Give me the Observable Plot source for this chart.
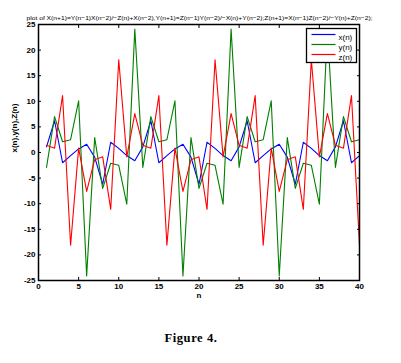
<!DOCTYPE html>
<html><head><meta charset="utf-8">
<script src="https://cdn.jsdelivr.net/npm/d3@7"></script>
<script src="https://cdn.jsdelivr.net/npm/@observablehq/plot@0.6"></script>
<style>
body{margin:0;background:#fff;}
#chart{width:401px;height:363px;}
</style>
</head><body><div id="chart"></div>
<script>
// ---- data ----
const titleText = "plot of X(n+1)=Y(n\u22121)X(n\u22122)/\u2212Z(n)+X(n\u22122),Y(n+1)=Z(n\u22121)Y(n\u22122)/\u2212X(n)+Y(n\u22122);Z(n+1)=X(n\u22121)Z(n\u22122)/\u2212Y(n)+Z(n\u22122);";
const xLabel = "n";
const yLabel = "x(n),y(n),Z(n)";
const caption = "Figure 4.";
const seriesNames = ["x(n)", "y(n)", "z(n)"];
const seriesColors = ["#0000ff", "#008000", "#ff0000"];
const xTicks = [0, 5, 10, 15, 20, 25, 30, 35, 40];
const yTicks = [-25, -20, -15, -10, -5, 0, 5, 10, 15, 20, 25];
const nVals = [1,2,3,4,5,6,7,8,9,10,11,12,13,14,15,16,17,18,19,20,21,22,23,24,25,26,27,28,29,30,31,32,33,34,35,36,37,38,39,40];
const xn = [1.1,6.2,-2.0,-0.6,0.7,1.6,-0.9,-6.2,2.0,0.8,-0.6,-1.6,
            1.1,6.2,-2.0,-0.6,0.7,1.6,-0.9,-6.2,2.0,0.8,-0.6,-1.6,
            1.1,6.2,-2.0,-0.6,0.7,1.6,-0.9,-6.2,2.0,0.8,-0.6,-1.6,
            1.1,6.2,-2.0,-0.6];
const yn = [-2.9,7.0,2.1,2.5,10.1,-24.1,2.9,-7.0,-2.1,-2.5,-10.1,24.1,
            -2.9,7.0,2.1,2.5,10.1,-24.1,2.9,-7.0,-2.1,-2.5,-10.1,24.1,
            -2.9,7.0,2.1,2.5,10.1,-24.1,2.9,-7.0,-2.1,-2.5,-10.1,24.1,
            -2.9,7.0,2.1,2.5];
const zn = [1.4,0.85,11.1,-18.1,0.85,-7.6,-1.4,-0.85,-11.1,18.1,-0.85,7.6,
            1.4,0.85,11.1,-18.1,0.85,-7.6,-1.4,-0.85,-11.1,18.1,-0.85,7.6,
            1.4,0.85,11.1,-18.1,0.85,-7.6,-1.4,-0.85,-11.1,18.1,-0.85,7.6,
            1.4,0.85,11.1,-18.1];

// ---- layout ----
const W = 401, H = 363, mL = 38, mR = 42, mT = 24, mB = 83;
const legendRows = [34, 44, 54];

const seriesVals = [xn, yn, zn];
const rows = [];
seriesNames.forEach((s, k) => nVals.forEach((n, i) => rows.push({n, v: seriesVals[k][i], s})));

const fontSans = "'Liberation Sans', Arial, Helvetica, sans-serif";

const legendMarks = [
  Plot.frame({fill: "#fff", stroke: "#000", strokeWidth: 1.3, insetLeft: 268, insetRight: 3, insetTop: 4, insetBottom: 218})
];
seriesNames.forEach((s, i) => {
  const r = legendRows[i];
  legendMarks.push(Plot.frame({fill: seriesColors[i], stroke: "none",
    insetLeft: 273, insetRight: 24, insetTop: r - mT - 0.6, insetBottom: H - mB - r - 0.6}));
  legendMarks.push(Plot.text([s], {text: d => d, frameAnchor: "top-right", dx: -21, dy: r - mT,
    textAnchor: "start", fontSize: 8, fill: "#000"}));
});

const chart = Plot.plot({
  width: W, height: H,
  marginLeft: mL, marginRight: mR, marginTop: mT, marginBottom: mB,
  style: {fontFamily: fontSans, fontSize: "8px", background: "#fff", color: "#000", overflow: "visible"},
  x: {domain: [0, 40]},
  y: {domain: [-25, 25]},
  color: {domain: seriesNames, range: seriesColors},
  marks: [
    Plot.line(rows, {x: "n", y: "v", z: "s", stroke: "s", strokeWidth: 1.1}),
    Plot.axisX(xTicks, {anchor: "bottom", tickSize: -3, tickPadding: 6, tickFormat: d => String(d), label: null, fontWeight: "bold"}),
    Plot.axisX(xTicks, {anchor: "top", tickSize: -3, tickFormat: () => "", label: null}),
    Plot.axisY(yTicks, {anchor: "left", tickSize: -3, tickPadding: 6, tickFormat: d => String(d), label: null, fontWeight: "bold"}),
    Plot.axisY(yTicks, {anchor: "right", tickSize: -3, tickFormat: () => "", label: null}),
    Plot.frame({stroke: "#000", strokeWidth: 1.5}),
    ...legendMarks,
    Plot.text([titleText], {text: d => d, frameAnchor: "top-left", dx: -12, dy: -9, textAnchor: "start", fontSize: 6.2, fill: "#000"}),
    Plot.text([yLabel], {text: d => d, frameAnchor: "left", dx: -24, rotate: -90, fontSize: 8, fontWeight: "bold", fill: "#000"}),
    Plot.text([xLabel], {text: d => d, frameAnchor: "bottom", dy: 17, fontSize: 8, fontWeight: "bold", fill: "#000"}),
    Plot.text([caption], {text: d => d, frameAnchor: "bottom", dx: -8, dy: 61, fontSize: 12.5, fontWeight: "bold",
      fontFamily: "'Liberation Serif', 'DejaVu Serif', serif", fill: "#000"})
  ]
});
d3.select(chart).selectAll("text").each(function () {
  const t = this.textContent;
  if (t.startsWith("plot of")) { this.setAttribute("textLength", 346); this.setAttribute("lengthAdjust", "spacingAndGlyphs"); }
  if (t === caption) { this.style.letterSpacing = "0.6px"; }
});
document.getElementById("chart").appendChild(chart);
</script>
</body></html>
